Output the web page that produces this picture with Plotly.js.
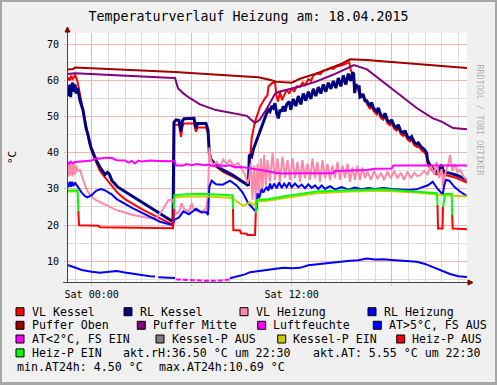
<!DOCTYPE html>
<html><head><meta charset="utf-8">
<script src="https://cdn.plot.ly/plotly-3.0.1.min.js"></script>
<style>
html,body{margin:0;padding:0;background:#f0f0f0;}
#wrap{position:relative;width:497px;height:385px;overflow:hidden;}
#chart{width:497px;height:385px;}
#frame{position:absolute;left:0;top:0;width:497px;height:385px;box-sizing:border-box;border:2px solid #a6a6a6;border-bottom-width:3px;pointer-events:none;}
</style></head><body>
<div id="wrap"><div id="chart"></div><div id="frame"></div></div>
<script>
// ---------------- DATA (hours relative to Sat 00:00, value) ----------------
const chartTitle = "Temperaturverlauf Heizung am: 18.04.2015";
const xTickVals = [0, 6, 12, 18];
const xTickText = ["Sat 00:00", "", "Sat 12:00", ""];
const yUnit = "°C";

const vlKessel = [[-1.45,60.0],[-1.38,61.0],[-1.3,60.2],[-1.22,61.5],[-1.15,60.5],[-1.05,61.0],[-1.0,61.8],[-0.94,61.2],[-0.86,60.0],[-0.75,57.5],[-0.6,53.5],[-0.45,50.0],[-0.3,46.5],[-0.15,43.0],[0.0,40.5],[0.26,37.6],[0.5,35.0],[0.8,33.2],[1.0,32.0],[1.22,30.8],[1.58,28.8],[2.0,27.2],[2.48,25.8],[3.0,24.4],[3.5,23.2],[4.1,21.8],[4.58,20.8],[4.88,20.0],[4.93,47.8],[5.24,47.9],[5.36,44.5],[5.45,47.5],[5.54,48.2],[6.14,48.2],[6.26,45.9],[6.35,47.1],[6.86,47.1],[6.98,45.5],[7.06,40.8],[7.16,38.5],[7.46,36.2],[7.86,34.8],[8.46,33.4],[9.06,32.0],[9.42,31.1],[9.5,38.0],[9.6,44.1],[9.8,48.7],[10.1,52.8],[10.4,55.2],[10.55,56.0],[10.6,58.4],[10.8,59.3],[11.0,59.8],[11.08,56.1],[11.18,54.3],[11.3,57.0],[11.42,54.7],[11.55,56.0],[11.7,57.5],[11.85,56.5],[12.0,58.0],[12.15,57.0],[12.3,58.5],[12.5,58.4],[12.65,59.5],[12.8,58.8],[13.0,60.5],[13.15,60.0],[13.3,61.5],[13.5,62.1],[13.7,61.8],[13.9,62.8],[14.1,63.0],[14.3,63.5],[14.5,63.3],[14.7,64.0],[14.9,64.2],[15.1,64.5],[15.3,64.9],[15.45,65.2],[15.55,63.0],[15.7,61.5],[15.78,58.0],[15.9,58.4],[16.05,56.6],[16.3,56.2],[16.5,53.8],[16.7,52.2],[16.8,53.2],[16.9,51.7],[17.1,50.7],[17.2,51.7],[17.35,49.7],[17.5,49.2],[17.6,50.2],[17.75,48.2],[17.9,47.7],[18.0,48.4],[18.15,46.7],[18.3,46.2],[18.4,47.0],[18.55,45.2],[18.7,44.7],[18.8,45.4],[18.95,43.7],[19.1,43.2],[19.2,43.7],[19.35,42.2],[19.5,41.7],[19.6,42.0],[19.8,40.7],[19.95,40.2],[20.1,39.2],[20.15,37.2],[20.25,36.2],[20.46,34.9],[20.6,34.2],[20.76,34.0],[20.9,35.2],[21.0,35.9],[21.1,34.2],[21.26,33.8],[21.46,33.6],[21.86,33.1],[22.2,32.4],[22.52,31.8]];

const rlKessel = [[-1.45,58.4],[-1.38,55.8],[-1.32,59.0],[-1.26,55.5],[-1.2,58.8],[-1.14,59.5],[-1.06,57.0],[-1.0,59.0],[-0.94,56.5],[-0.88,58.0],[-0.82,57.5],[-0.7,54.5],[-0.52,51.9],[-0.34,47.0],[-0.22,45.0],[-0.04,41.5],[0.26,38.1],[0.5,36.0],[0.8,34.0],[0.95,34.6],[1.05,34.2],[1.22,32.3],[1.58,30.5],[2.0,29.3],[2.48,27.8],[3.0,26.4],[3.5,25.0],[4.1,23.2],[4.58,21.8],[4.88,20.9],[4.94,48.5],[5.06,49.2],[5.24,49.0],[5.36,46.0],[5.45,49.0],[5.54,49.5],[6.14,49.6],[6.26,46.9],[6.35,48.2],[6.86,48.2],[6.98,46.4],[7.06,39.9],[7.16,38.1],[7.46,36.7],[7.86,35.3],[8.46,33.9],[9.06,32.0],[9.4,31.0],[9.46,39.5],[9.6,39.0],[9.7,41.0],[9.9,43.6],[10.2,47.3],[10.5,51.0],[10.6,52.0],[10.7,51.5],[10.8,53.0],[10.9,52.5],[11.0,53.8],[11.1,51.0],[11.2,49.6],[11.3,52.0],[11.4,51.5],[11.5,53.0],[11.6,51.5],[11.7,53.5],[11.85,54.3],[11.95,52.0],[12.1,55.0],[12.25,53.0],[12.4,55.8],[12.55,53.5],[12.7,56.5],[12.85,54.5],[13.0,57.0],[13.15,55.0],[13.3,57.8],[13.45,55.8],[13.6,58.3],[13.75,56.5],[13.9,59.0],[14.05,57.0],[14.2,59.5],[14.35,57.8],[14.5,60.0],[14.65,58.0],[14.8,60.8],[14.95,58.5],[15.1,61.5],[15.25,59.0],[15.4,62.0],[15.55,60.0],[15.65,62.3],[15.72,62.0],[15.78,56.6],[15.85,59.0],[15.95,58.4],[16.05,58.4],[16.1,55.5],[16.3,56.0],[16.4,54.5],[16.5,54.5],[16.7,53.0],[16.8,54.0],[16.9,52.5],[17.1,51.5],[17.2,52.5],[17.35,50.5],[17.5,50.0],[17.6,51.0],[17.75,49.0],[17.9,48.5],[18.0,49.2],[18.15,47.5],[18.3,47.0],[18.4,47.8],[18.55,46.0],[18.7,45.5],[18.8,46.2],[18.95,44.5],[19.1,44.0],[19.2,44.5],[19.35,43.0],[19.5,42.5],[19.6,42.8],[19.8,41.5],[19.95,41.0],[20.1,40.0],[20.15,38.0],[20.25,37.0],[20.46,35.7],[20.6,35.0],[20.76,34.8],[20.9,36.0],[21.0,36.7],[21.1,35.0],[21.26,34.6],[21.46,34.4],[21.86,33.9],[22.2,33.2],[22.52,32.5]];

const vlHeizung = [[-1.45,36.5],[-1.4,33.5],[-1.35,37.0],[-1.3,33.8],[-1.22,36.8],[-1.15,33.4],[-1.08,37.2],[-1.0,34.0],[-0.92,36.5],[-0.85,35.0],[-0.7,35.3],[-0.52,32.5],[-0.34,30.2],[-0.1,28.3],[0.26,26.9],[0.85,25.6],[1.45,24.2],[2.48,22.8],[3.5,21.9],[3.9,22.0],[4.3,24.5],[4.6,26.9],[4.88,27.0],[4.95,25.0],[5.06,23.0],[5.24,23.5],[5.4,26.0],[5.54,24.5],[5.84,23.7],[6.0,26.0],[6.14,24.2],[6.5,23.5],[6.86,24.5],[6.98,28.0],[7.06,41.5],[7.16,38.0],[7.3,36.6],[7.5,37.5],[7.7,36.3],[7.9,38.2],[8.1,37.0],[8.3,38.0],[8.5,36.5],[8.8,37.2],[9.0,35.5],[9.2,34.0],[9.36,31.5],[9.45,33.0],[9.55,37.2],[9.65,27.0],[9.75,36.5],[9.85,26.5],[9.95,37.0],[10.05,29.0],[10.15,38.5],[10.25,30.0],[10.35,39.5],[10.45,31.0],[10.55,38.0],[10.7,32.0],[10.85,40.0],[11.0,32.5],[11.15,38.5],[11.3,32.0],[11.45,39.0],[11.6,33.0],[11.75,38.0],[11.9,32.5],[12.05,38.5],[12.2,33.0],[12.35,37.5],[12.5,32.0],[12.65,38.0],[12.8,33.0],[12.95,37.0],[13.1,32.5],[13.25,38.5],[13.4,33.0],[13.55,37.5],[13.7,32.0],[13.85,38.0],[14.0,33.0],[14.15,37.0],[14.3,32.5],[14.45,36.5],[14.6,33.0],[14.75,37.5],[14.9,32.5],[15.05,36.5],[15.2,33.0],[15.35,37.0],[15.5,32.0],[15.65,36.0],[15.8,32.5],[15.95,36.5],[16.1,32.5],[16.25,36.0],[16.4,33.0],[16.55,34.8],[16.75,32.5],[16.95,35.0],[17.15,32.8],[17.35,34.5],[17.55,32.5],[17.75,34.8],[17.95,33.0],[18.15,35.0],[18.35,33.0],[18.55,34.5],[18.75,32.5],[18.95,34.8],[19.15,33.0],[19.35,34.5],[19.55,33.5],[19.75,34.0],[19.95,35.0],[20.15,34.0],[20.35,36.5],[20.55,34.0],[20.7,37.5],[20.85,33.0],[21.0,35.5],[21.1,30.5],[21.2,34.0],[21.4,37.0],[21.5,39.4],[21.65,35.0],[21.8,37.0],[21.95,34.5],[22.1,35.5],[22.3,33.5],[22.52,32.5]];

const rlHeizung = [[-1.45,31.6],[-1.4,30.5],[-1.32,32.0],[-1.25,30.6],[-1.18,32.0],[-1.1,30.8],[-1.0,31.8],[-0.9,31.0],[-0.82,30.5],[-0.6,29.0],[-0.4,28.0],[-0.25,27.7],[0.0,28.3],[0.26,29.5],[0.55,30.0],[0.8,29.6],[1.2,28.5],[1.5,27.2],[2.48,24.6],[3.5,22.3],[4.1,20.9],[4.6,20.3],[4.88,20.0],[4.95,21.4],[5.24,22.1],[5.5,23.8],[5.84,23.0],[6.26,24.5],[6.6,23.5],[6.86,23.6],[6.98,22.8],[7.06,30.6],[7.2,32.3],[7.46,31.3],[7.86,31.2],[8.3,32.3],[8.7,31.0],[9.06,29.0],[9.4,26.0],[9.6,25.0],[9.85,23.7],[9.9,24.6],[9.95,28.8],[10.05,27.5],[10.2,30.0],[10.3,29.0],[10.5,30.6],[10.6,29.5],[10.7,31.5],[10.8,30.0],[10.95,31.5],[11.1,30.2],[11.25,31.8],[11.4,30.3],[11.55,31.5],[11.7,30.5],[11.85,31.8],[12.0,30.5],[12.2,31.5],[12.4,30.5],[12.6,31.2],[12.8,30.2],[13.0,31.3],[13.2,30.3],[13.4,31.0],[13.6,30.0],[13.8,31.0],[14.0,30.0],[14.3,30.8],[14.6,29.9],[15.0,30.5],[15.4,29.8],[15.8,30.4],[16.2,29.9],[16.6,30.3],[17.0,30.0],[17.5,30.3],[18.0,30.0],[18.5,29.8],[19.0,29.7],[19.5,29.9],[19.7,30.2],[20.2,31.1],[20.46,32.0],[20.6,31.0],[20.76,30.0],[21.0,28.8],[21.06,28.3],[21.15,31.0],[21.26,32.5],[21.46,32.3],[21.76,30.6],[22.1,29.3],[22.52,28.0]];

const pufferOben = [[-1.45,63.2],[-1.1,63.3],[-1.0,63.7],[0.5,63.4],[2.0,63.0],[5.0,62.5],[9.0,61.3],[9.5,61.2],[10.0,61.0],[10.8,60.2],[11.0,59.8],[12.0,59.5],[12.5,60.6],[13.5,62.1],[14.5,63.8],[15.0,64.8],[15.5,66.0],[16.5,65.8],[22.52,63.6]];

const pufferMitte = [[-1.45,61.9],[-1.0,62.1],[4.58,60.9],[5.0,60.8],[5.18,58.0],[5.48,56.6],[5.9,55.2],[6.5,53.5],[7.46,51.9],[8.48,51.0],[9.32,50.3],[9.5,49.5],[9.8,48.3],[10.1,49.3],[10.52,52.4],[11.0,56.4],[11.24,57.0],[12.44,58.4],[13.46,59.8],[14.48,61.7],[15.74,64.4],[16.52,63.2],[17.5,59.8],[18.5,56.1],[19.52,52.4],[20.48,49.6],[21.0,48.7],[21.68,46.9],[22.52,46.6]];

const luftfeuchte = [[-1.45,37.6],[-1.35,37.0],[-1.25,37.6],[-1.15,37.1],[-1.0,37.5],[-0.5,37.8],[0.0,37.9],[0.3,38.6],[0.5,38.4],[0.8,38.7],[1.2,38.6],[1.5,38.0],[2.0,37.9],[2.2,37.3],[2.4,37.8],[2.6,37.1],[2.8,37.9],[3.0,37.6],[3.5,37.9],[4.0,37.8],[4.5,37.8],[5.0,37.7],[5.05,36.5],[5.5,36.5],[5.7,36.9],[6.0,36.6],[6.3,36.9],[6.8,36.6],[7.0,36.8],[7.3,36.3],[7.6,36.6],[8.0,36.4],[8.3,36.6],[8.6,36.0],[9.0,36.1],[9.5,35.8],[10.0,35.5],[10.5,35.0],[11.0,34.5],[11.5,34.3],[12.5,34.4],[13.5,34.3],[14.5,34.4],[14.6,35.0],[15.5,35.1],[16.5,35.3],[17.0,35.6],[18.0,35.7],[18.1,36.5],[19.0,36.5],[19.5,36.7],[20.0,36.5],[21.0,36.6],[22.0,36.6],[22.52,36.5]];

const atHigh = [[-1.45,8.9],[-1.2,8.6],[-1.0,8.2],[-0.6,7.5],[-0.4,7.3],[0.0,7.0],[0.5,6.75],[0.9,7.0],[1.5,7.2],[2.0,6.8],[2.5,6.4],[3.0,6.2],[3.5,5.8],[3.8,5.7],[3.85,null],[4.0,5.5],[4.6,5.4],[5.0,5.3],[5.05,null],[8.3,5.2],[8.8,5.8],[9.2,6.3],[9.5,6.9],[10.0,7.2],[10.5,7.5],[11.0,7.7],[11.5,8.1],[12.0,8.0],[12.5,8.1],[13.0,8.8],[13.5,9.1],[14.0,9.4],[14.5,9.7],[15.0,9.9],[15.5,10.1],[16.0,10.2],[16.5,10.69],[17.0,10.4],[17.5,10.5],[18.0,10.3],[18.5,10.2],[19.0,10.1],[19.5,9.8],[20.0,9.2],[20.5,8.2],[21.0,7.2],[21.5,6.4],[22.0,5.8],[22.52,5.55]];
const atLow = [[5.05,4.9],[5.5,4.8],[6.0,4.6],[6.5,4.5],[7.0,4.5],[7.5,4.5],[8.0,4.7],[8.3,4.9]];

const kesselPAus = [];
const kesselPEin = [[-1.45,29.3],[-0.84,29.3],[-0.83,null],[4.96,27.8],[5.5,27.9],[6.5,28.0],[7.5,27.8],[8.46,27.5],[8.8,26.2],[9.1,25.3],[9.3,25.8],[9.5,26.3],[9.7,25.5],[9.9,26.5],[10.5,26.7],[11.5,27.4],[12.5,28.1],[13.5,28.8],[15.5,29.3],[17.5,29.5],[19.5,29.0],[20.5,28.5],[21.0,28.3],[22.52,27.9]];
const heizPAus = [[-0.8,24.0],[-0.76,19.9],[0.4,19.8],[0.5,19.4],[4.88,19.1],[4.92,24.5],[4.93,null],[8.48,24.5],[8.5,18.6],[8.9,18.5],[8.95,17.7],[9.3,17.6],[9.35,17.2],[9.8,17.2],[9.85,23.5],[9.86,null],[20.75,25.6],[20.78,19.0],[21.05,19.0],[21.08,25.0],[21.09,null],[21.63,22.8],[21.66,19.0],[22.52,18.8]];
const heizPEin = [[-1.45,29.6],[-0.84,29.6],[-0.8,24.0],[-0.79,null],[4.92,24.5],[4.96,28.3],[5.5,28.5],[6.5,28.7],[7.5,28.5],[8.46,28.2],[8.48,24.5],[8.49,null],[9.85,23.5],[9.9,26.9],[10.1,27.1],[10.5,27.1],[11.5,27.9],[12.5,28.6],[13.5,29.3],[14.5,29.5],[15.5,29.7],[16.5,29.8],[17.5,29.9],[18.5,29.6],[19.5,29.3],[20.5,28.8],[20.72,28.8],[20.75,25.6],[20.76,null],[21.08,25.0],[21.12,26.5],[21.2,28.6],[21.6,28.6],[21.63,22.8],[21.64,null]];

const legendLabels = ["VL Kessel","RL Kessel","VL Heizung","RL Heizung","Puffer Oben","Puffer Mitte","Luftfeuchte","AT>5°C, FS AUS","AT<2°C, FS EIN","Kessel-P AUS","Kessel-P EIN","Heiz-P AUS","Heiz-P EIN"];
const seriesColors = ["#ff0000","#000080","#ff88a8","#0000ff","#a00000","#800080","#ff00ff","#0000ff","#ff00ff","#808080","#cccc00","#ff0000","#00ff00"];
const seriesData = [vlKessel, rlKessel, vlHeizung, rlHeizung, pufferOben, pufferMitte, luftfeuchte, atHigh, atLow, kesselPAus, kesselPEin, heizPAus, heizPEin];
const seriesWidth = [2,3,2,2,2,2,2,2,2,2,2,2,2];
const seriesDash = ['solid','solid','solid','solid','solid','solid','solid','solid','5px,2px','solid','solid','solid','solid'];

// ---------------- LAYOUT ----------------
const W=497,H=385,L=67,R=30,T=33,B=102;
const PW=W-L-R, PH=H-T-B;
const px = x => (x-L)/PW;
const py = y => (H-B-y)/PH;
const FONT = "DejaVu Sans Mono, monospace";

const traces = seriesData.map((d,i)=>({
  type:'scatter', mode:'lines', name:legendLabels[i],
  x:d.map(p=>p[0]), y:d.map(p=>p[1]),
  line:{color:seriesColors[i], width:seriesWidth[i], dash:seriesDash[i]},
  connectgaps:false, hoverinfo:'skip', showlegend:false
}));

const annotations = [];
const shapes = [];
const legendPos = [[16,311.7],[124,311.7],[240,311.7],[368,311.7],[16,325.3],[137.3,325.3],[257.7,325.3],[373.3,325.3],[16,339],[156,339],[277.7,339],[396.7,339],[16,352.9]];
legendLabels.forEach((lab,i)=>{
  const [sx,sy]=legendPos[i];
  shapes.push({type:'rect',xref:'paper',yref:'paper',x0:px(sx),x1:px(sx+8),y0:py(sy+4),y1:py(sy-4),fillcolor:seriesColors[i],line:{color:'#000',width:1},layer:'above'});
  annotations.push({xref:'paper',yref:'paper',x:px(sx+13.5),y:py(sy),xanchor:'left',yanchor:'middle',text:lab,showarrow:false,font:{family:FONT,size:11.6,color:'#000'}});
});
const lastRH = luftfeuchte[luftfeuchte.length-1][1];
const atVals = atHigh.concat(atLow).map(p=>p[1]).filter(v=>v!==null);
const lastAT = atHigh[atHigh.length-1][1];
const fmt = v => v.toFixed(2).padStart(5,' ');
const stats = [
  [122.7,352.9,"akt.rH:"+fmt(lastRH)+" °C um 22:30"],
  [312.7,352.9,"akt.AT:"+fmt(lastAT)+" °C um 22:30"],
  [16.3,366.9,"min.AT24h:"+fmt(Math.min(...atVals))+" °C"],
  [158,366.9,"max.AT24h:"+fmt(Math.max(...atVals))+" °C"]
];
stats.forEach(s=>annotations.push({xref:'paper',yref:'paper',x:px(s[0]-1.5),y:py(s[1]),xanchor:'left',yanchor:'middle',text:s[2].replace(/ /g,'\u00a0'),showarrow:false,font:{family:FONT,size:11.6,color:'#000'}}));

annotations.push({xref:'paper',yref:'paper',x:px(12),y:py(157),xanchor:'center',yanchor:'middle',text:yUnit,textangle:-90,showarrow:false,font:{family:FONT,size:11,color:'#000'}});
annotations.push({xref:'paper',yref:'paper',x:px(487),y:py(62.5),text:"RRDTOOL / TOBI OETIKER",textangle:90,showarrow:false,font:{family:FONT,size:8.4,color:'#b0b0b0'}});

// axis arrows
const AX='#404040', AR='#800000';
shapes.push({type:'line',xref:'paper',yref:'paper',x0:px(67.5),x1:px(67.5),y0:py(283),y1:py(29),line:{color:AX,width:1},layer:'above'});
shapes.push({type:'line',xref:'paper',yref:'paper',x0:px(63),x1:px(470),y0:py(282.5),y1:py(282.5),line:{color:AX,width:1},layer:'above'});
shapes.push({type:'path',xref:'paper',yref:'paper',path:`M${px(65)},${py(32)} L${px(70)},${py(32)} L${px(67.5)},${py(27)} Z`,fillcolor:AR,line:{color:AR,width:1},layer:'above'});
shapes.push({type:'path',xref:'paper',yref:'paper',path:`M${px(468)},${py(280)} L${px(468)},${py(285)} L${px(473)},${py(282.5)} Z`,fillcolor:AR,line:{color:AR,width:1},layer:'above'});

const layout = {
  width:W, height:H, autosize:false,
  margin:{l:L,r:R,t:T,b:B,pad:0},
  paper_bgcolor:'#f0f0f0', plot_bgcolor:'#ffffff',
  showlegend:false,
  title:{text:chartTitle, font:{family:FONT,size:13.3,color:'#000'}, x:0.5, xanchor:'center', y:1-16/H, yanchor:'middle'},
  xaxis:{range:[-1.48,22.52], tickmode:'array', tickvals:xTickVals, ticktext:xTickText,
    showgrid:true, gridcolor:'#f2b2b2', gridwidth:1, zeroline:false,
    minor:{tick0:0,dtick:1,showgrid:true,gridcolor:'#dcdcdc',gridwidth:1,ticks:''},
    ticks:'outside', ticklen:2, tickcolor:'#f2b2b2', showline:false,
    tickfont:{family:FONT,size:10,color:'#000'}, fixedrange:true},
  yaxis:{range:[3.9,73.3], tick0:0, dtick:10, showgrid:true, gridcolor:'#f2b2b2', gridwidth:1, zeroline:false,
    minor:{tick0:0,dtick:5,showgrid:true,gridcolor:'#dcdcdc',gridwidth:1,ticks:''},
    ticks:'outside', ticklen:2, tickcolor:'#f2b2b2', showline:false,
    ticklabelstandoff:3,
    tickfont:{family:FONT,size:10,color:'#000'}, fixedrange:true},
  annotations, shapes
};
Plotly.newPlot('chart', traces, layout, {staticPlot:true, displayModeBar:false});
</script></body></html>
